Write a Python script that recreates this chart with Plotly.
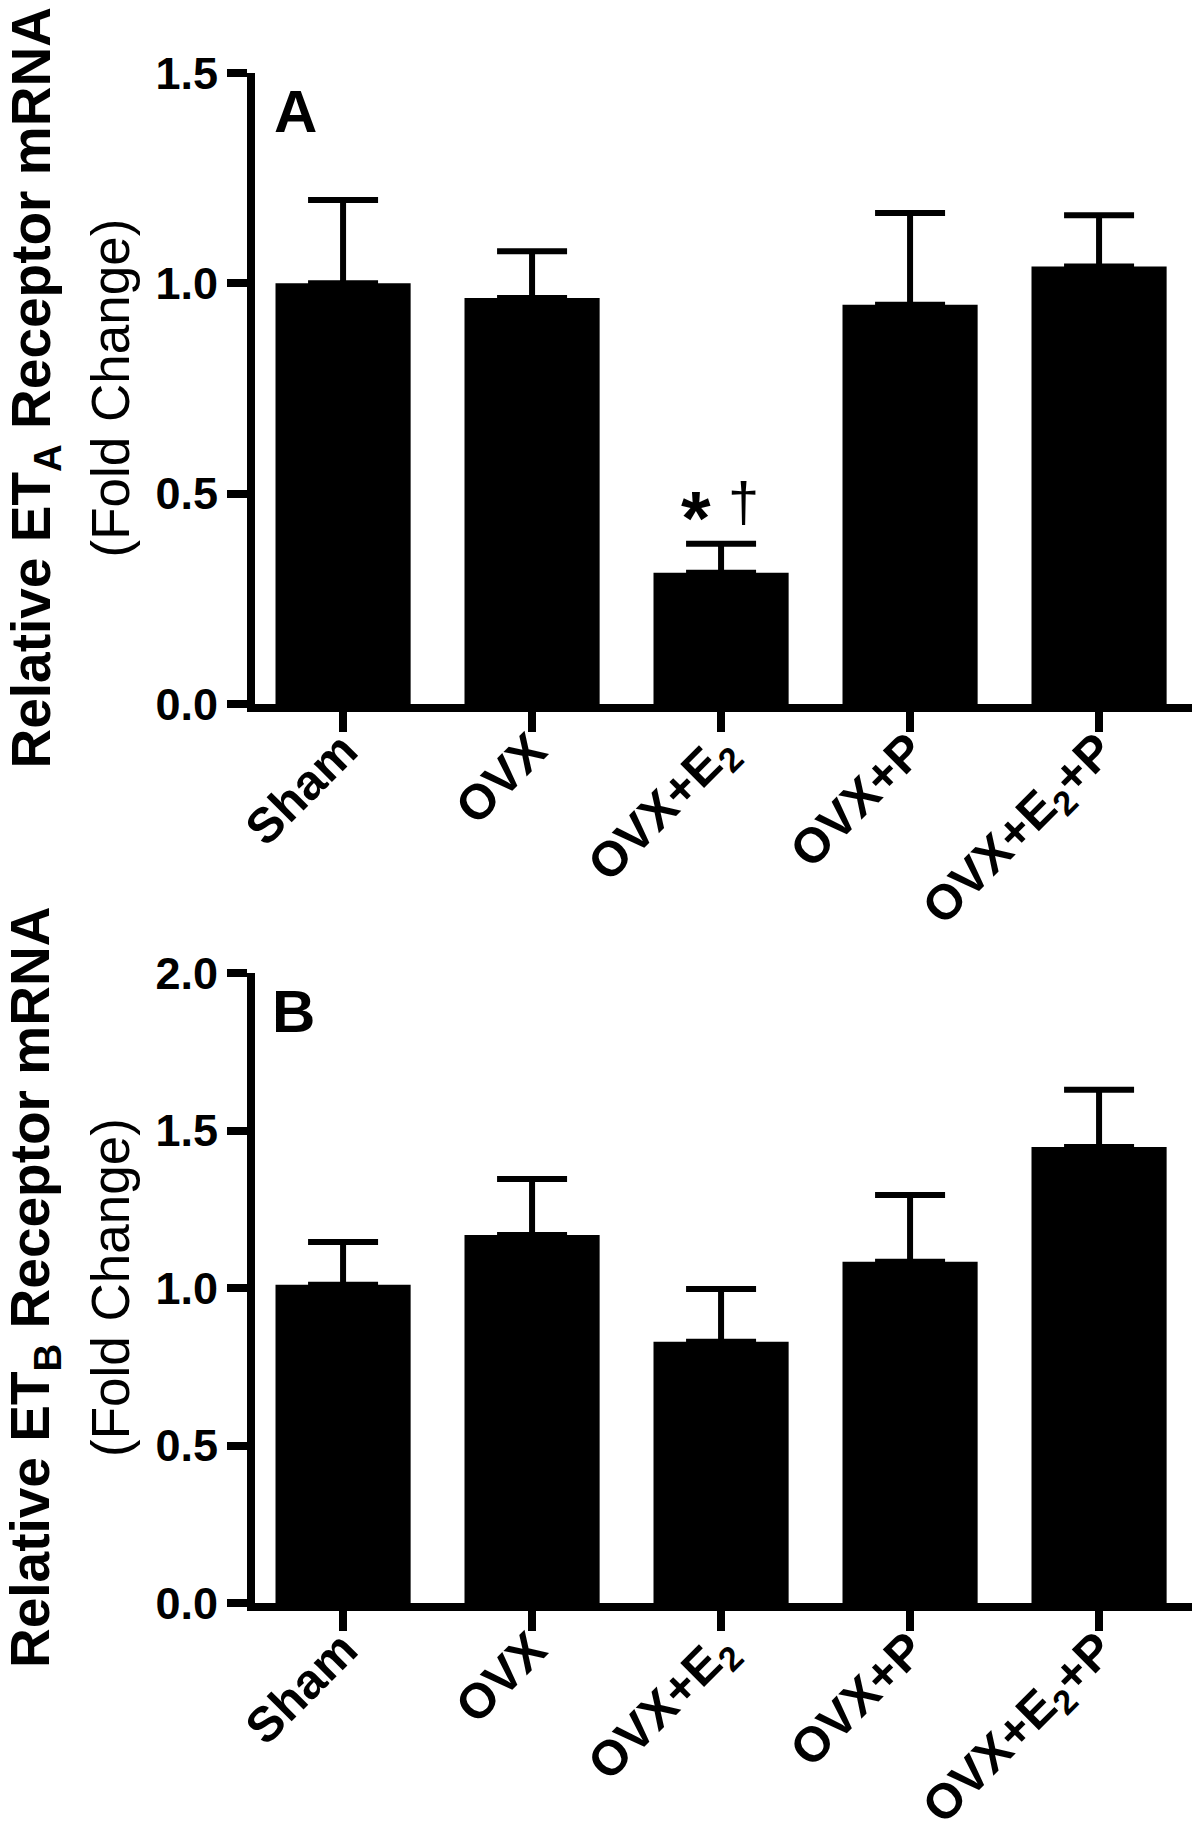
import plotly.graph_objects as go
from plotly.subplots import make_subplots

categories = ["Sham", "OVX", "OVX+E2", "OVX+P", "OVX+E2+P"]
tick_labels = ["Sham", "OVX", "OVX+E<sub>2</sub>", "OVX+P", "OVX+E<sub>2</sub>+P"]

eta_mean = [1.00, 0.965, 0.312, 0.949, 1.040]
eta_sem = [0.198, 0.111, 0.069, 0.218, 0.122]

etb_mean = [1.01, 1.168, 0.829, 1.083, 1.448]
etb_sem = [0.136, 0.178, 0.168, 0.212, 0.181]

ya_ticks = [0.0, 0.5, 1.0, 1.5]
yb_ticks = [0.0, 0.5, 1.0, 1.5, 2.0]

# page has an 8px body margin; work in page coordinates and compensate
OFF = 8
W, H = 1200 - OFF, 1821 - OFF
PLOT_L, PLOT_R = 255, 1193      # page px
A_TOP, A_BOT = 73, 704
B_TOP, B_BOT = 973, 1603
X_RANGE = [-0.466, 4.497]

ML = PLOT_L - OFF
MR = W - (PLOT_R - OFF)
MT = A_TOP - OFF
MB = H - (B_BOT - OFF)
PW = W - ML - MR
PH = H - MT - MB

def py2paper(py):
    return ((B_BOT - OFF) - (py - OFF)) / PH

def px2paper(px):
    return ((px - OFF) - ML) / PW

fig = make_subplots(rows=2, cols=1, vertical_spacing=0.1)

font_family = "Liberation Sans, Arial, sans-serif"

for row, (vals, errs) in enumerate([(eta_mean, eta_sem), (etb_mean, etb_sem)], start=1):
    fig.add_trace(go.Bar(
        x=categories, y=vals, width=0.715,
        marker=dict(color="black", line=dict(width=0)),
        error_y=dict(type="data", symmetric=False, array=errs,
                     arrayminus=[0] * len(errs), color="black",
                     thickness=6, width=35),
        showlegend=False,
    ), row=row, col=1)

axis_common = dict(showline=True, linecolor="black", linewidth=8,
                   ticks="outside", ticklen=20, tickwidth=8, tickcolor="black",
                   showgrid=False, zeroline=False, automargin=False)

dA = [py2paper(A_BOT), 1.0]
dB = [0.0, py2paper(B_TOP)]

xfont = dict(size=49, family=font_family, weight="bold", color="black")
yfont = dict(size=45, family=font_family, weight="bold", color="black")

fig.update_layout(
    xaxis=dict(domain=[0, 1], range=X_RANGE, tickvals=categories, ticktext=tick_labels,
               tickangle=-45, tickfont=xfont, ticklabelstandoff=-30, **axis_common),
    xaxis2=dict(domain=[0, 1], range=X_RANGE, tickvals=categories, ticktext=tick_labels,
                tickangle=-45, tickfont=xfont, ticklabelstandoff=-30, **axis_common),
    yaxis=dict(domain=dA, range=[0, 1.5], tickvals=ya_ticks, tickformat=".1f",
               tickfont=yfont, **axis_common),
    yaxis2=dict(domain=dB, range=[0, 2.0], tickvals=yb_ticks, tickformat=".1f",
                tickfont=yfont, **axis_common),
    width=W, height=H,
    margin=dict(l=ML, r=MR, t=MT, b=MB, autoexpand=False),
    plot_bgcolor="white", paper_bgcolor="white",
    font=dict(family=font_family, color="black"),
    bargap=0.285,
)

annotations = []
# y titles
for (top, bot, sub) in [(A_TOP, A_BOT, "A"), (B_TOP, B_BOT, "B")]:
    cy = py2paper((top + bot) / 2)
    annotations.append(dict(
        text=f"<b>Relative ET<sub>{sub}</sub> Receptor mRNA</b>",
        xref="paper", yref="paper", x=px2paper(34), y=cy,
        xanchor="center", yanchor="middle", textangle=-90, showarrow=False,
        font=dict(size=55, family=font_family, color="black")))
    annotations.append(dict(
        text="(Fold Change)",
        xref="paper", yref="paper", x=px2paper(110), y=cy,
        xanchor="center", yanchor="middle", textangle=-90, showarrow=False,
        font=dict(size=53, family=font_family, color="black")))

# panel letters
annotations.append(dict(text="<b>A</b>", xref="paper", yref="paper",
                        x=px2paper(272), y=py2paper(76), xanchor="left", yanchor="top",
                        showarrow=False, font=dict(size=60, family=font_family, color="black")))
annotations.append(dict(text="<b>B</b>", xref="paper", yref="paper",
                        x=px2paper(270), y=py2paper(976), xanchor="left", yanchor="top",
                        showarrow=False, font=dict(size=60, family=font_family, color="black")))

# significance marks above OVX+E2 bar in panel A
top_e2 = eta_mean[2] + eta_sem[2]
annotations.append(dict(text="<b>*</b>", xref="x", yref="y", x=categories[2], y=top_e2,
                        xshift=-25, yshift=26, xanchor="center", yanchor="middle",
                        showarrow=False, font=dict(size=76, family=font_family, color="black")))
annotations.append(dict(text="†", xref="x", yref="y", x=categories[2], y=top_e2,
                        xshift=22, yshift=42, xanchor="center", yanchor="middle",
                        showarrow=False, font=dict(size=56, family=font_family, color="black")))

fig.update_layout(annotations=annotations)

fig.write_html("out.html")
